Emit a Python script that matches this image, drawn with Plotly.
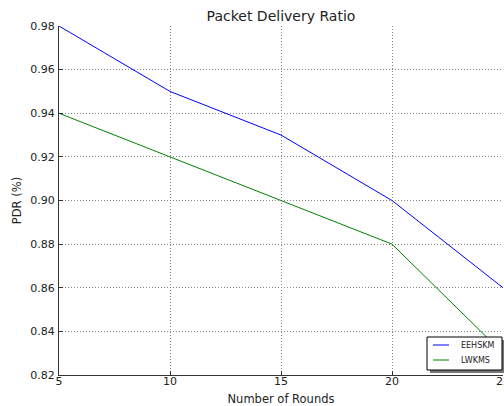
import plotly.graph_objects as go

rounds = [5, 10, 15, 20, 25]
eehskm = [0.98, 0.95, 0.93, 0.90, 0.86]
lwkms = [0.94, 0.92, 0.90, 0.88, 0.83]
series_names = ["EEHSKM", "LWKMS"]
series_colors = ["#0000ff", "#008000"]
y_ticks = [0.82, 0.84, 0.86, 0.88, 0.90, 0.92, 0.94, 0.96, 0.98]

W, H = 504, 406
L, R, T, B = 59, 1, 26, 31
PW, PH = W - L - R, H - T - B


def px(fx):
    return (fx - L) / PW


def py(fy):
    return (H - B - fy) / PH


fig = go.Figure()
for name, vals, col in zip(series_names, [eehskm, lwkms], series_colors):
    fig.add_trace(go.Scatter(x=rounds, y=vals, mode="lines", name=name,
                             line=dict(color=col, width=1), showlegend=False))

font = "DejaVu Sans, sans-serif"
grid = dict(showgrid=True, gridcolor="#888", griddash="1px,2px", gridwidth=1)
fig.update_layout(
    width=W, height=H,
    margin=dict(l=L, r=R, t=T, b=B),
    paper_bgcolor="white", plot_bgcolor="white",
    font=dict(family=font, size=11, color="#222"),
    title=dict(text="Packet Delivery Ratio", x=(L + PW / 2) / W, xanchor="center",
               y=1 - 16 / H, yanchor="middle", font=dict(size=14, color="#222"),
               automargin=False),
    xaxis=dict(range=[5, 25], tickvals=rounds, ticktext=[str(r) for r in rounds],
               showline=True, linecolor="#333", linewidth=1, mirror=False,
               ticks="inside", ticklen=4, tickcolor="#333", ticklabelstandoff=-4,
               ticklabeloverflow="allow",
               zeroline=False, automargin=False,
               title=dict(text="Number of Rounds", standoff=7, font=dict(size=11.5)),
               tickfont=dict(size=11), **grid),
    xaxis2=dict(range=[5, 25], tickvals=rounds, overlaying="x", side="top",
                showticklabels=False, showgrid=False, zeroline=False,
                showline=True, linecolor="#333", linewidth=1,
                ticks="inside", ticklen=4, tickcolor="#333", automargin=False),
    yaxis=dict(range=[0.82, 0.98], tickvals=y_ticks,
               ticktext=[f"{v:.2f}" for v in y_ticks],
               showline=True, linecolor="#333", linewidth=1, mirror=False,
               ticks="inside", ticklen=4, tickcolor="#333", ticklabelstandoff=1,
               zeroline=False, automargin=False,
               title=dict(text="PDR (%)", standoff=6, font=dict(size=11.5)),
               tickfont=dict(size=11), **grid),
)

# legend box with shadow (matplotlib style)
bx0, bx1, by0, by1 = 427, 502, 337, 370
fig.add_shape(type="rect", xref="paper", yref="paper",
              x0=px(bx0 + 3), x1=px(bx1 + 3), y0=py(by0 + 3), y1=py(by1 + 3),
              fillcolor="#777", line=dict(width=0))
fig.add_shape(type="rect", xref="paper", yref="paper",
              x0=px(bx0), x1=px(bx1), y0=py(by0), y1=py(by1),
              fillcolor="white", line=dict(color="black", width=1))
for i, (name, col) in enumerate(zip(series_names, series_colors)):
    fy = 345 + 15 * i
    fig.add_shape(type="line", xref="paper", yref="paper",
                  x0=px(433), x1=px(449), y0=py(fy), y1=py(fy),
                  line=dict(color=col, width=1))
    fig.add_annotation(text=name, xref="paper", yref="paper", x=px(459), y=py(fy),
                       xanchor="left", yanchor="middle", showarrow=False,
                       font=dict(size=8, color="#222"))

fig.write_html(
    "out.html",
    config={"displayModeBar": False},
    post_script="document.documentElement.style.overflow='hidden';"
                "document.body.style.overflow='hidden';"
                "document.body.style.margin='0';",
)
